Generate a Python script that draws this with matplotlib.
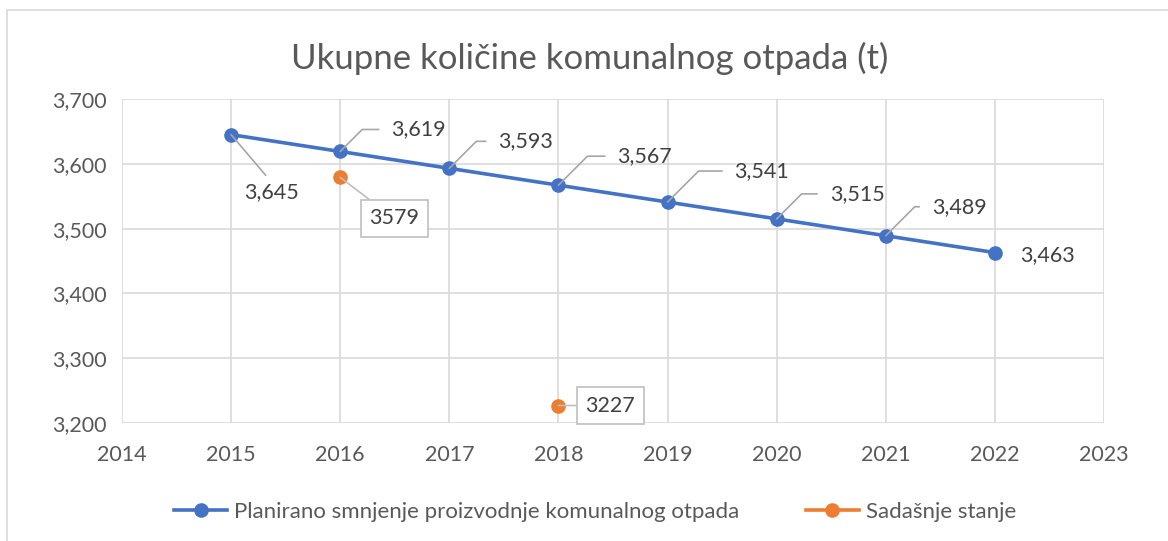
import matplotlib.pyplot as plt
from matplotlib.lines import Line2D
from matplotlib.patches import Rectangle
from matplotlib.ticker import FuncFormatter

plt.rcParams['font.family'] = ['Lato', 'DejaVu Sans']

# data
years = [2015, 2016, 2017, 2018, 2019, 2020, 2021, 2022]
planned = [3645, 3619, 3593, 3567, 3541, 3515, 3489, 3463]
actual_years = [2016, 2018]
actual = [3579, 3227]
series_names = ['Planirano smnjenje proizvodnje komunalnog otpada', 'Sadašnje stanje']

# label offsets in pixels (dx, dy)
label_offsets = [(40, -57), (51, 22), (49, 27), (59, 29), (67, 31), (53, 25), (46, 29), (25, -3)]
actual_offsets = [(54, -41), (52, 0)]

BLUE = '#4472C4'
ORANGE = '#ED7D31'
GRID = '#d9d9d9'
TXT = '#595959'
LBL = '#404040'
LEAD = '#a6a6a6'
FS = 15.5


def main():
    fig = plt.figure(figsize=(11.68, 5.41), dpi=100)
    fig.patches.append(Rectangle((7 / 1168, -0.1), 1.2, 1 - 10 / 541 + 0.1,
                                 transform=fig.transFigure, fill=False,
                                 edgecolor=GRID, lw=1.2))
    ax = fig.add_axes([122 / 1168, 1 - 423 / 541, (1104 - 122) / 1168, (423 - 99) / 541])

    ax.plot(years, planned, color=BLUE, lw=2.6, marker='o', ms=9.5, zorder=3)
    ax.plot(actual_years, actual, color=ORANGE, ls='none', marker='o', ms=9.5, zorder=3)

    ax.set_xlim(2014, 2023)
    ax.set_ylim(3200, 3700)
    ax.set_xticks(range(2014, 2024))
    ax.set_yticks(range(3200, 3701, 100))
    ax.yaxis.set_major_formatter(FuncFormatter(lambda v, p: f'{int(v):,}'))
    ax.grid(True, color=GRID, lw=1.2)
    ax.set_axisbelow(True)
    for s in ax.spines.values():
        s.set_visible(False)
    ax.tick_params(length=0, labelsize=FS, colors=TXT, pad=11)
    ax.tick_params(axis='x', pad=16)

    # planned labels
    for i, (x, y) in enumerate(zip(years, planned)):
        dx, dy = label_offsets[i]
        if i == 0:
            ax.annotate(f'{y:,}', (x, y), xytext=(dx, dy), textcoords='offset pixels',
                        ha='center', va='center', fontsize=FS, color=LBL,
                        arrowprops=dict(arrowstyle='-', color=LEAD, lw=1.2, patchA=None,
                                        shrinkA=6, shrinkB=0, relpos=(0.5, 1)))
        elif i == len(years) - 1:
            ax.annotate(f'{y:,}', (x, y), xytext=(dx, dy), textcoords='offset pixels',
                        ha='left', va='center', fontsize=FS, color=LBL)
        else:
            ax.annotate(f'{y:,}', (x, y), xytext=(dx, dy), textcoords='offset pixels',
                        ha='left', va='center', fontsize=FS, color=LBL,
                        arrowprops=dict(arrowstyle='-', color=LEAD, lw=1.2,
                                        shrinkA=7, shrinkB=0, relpos=(0, 0.5),
                                        connectionstyle='angle,angleA=0,angleB=45,rad=0'))

    # actual labels in boxes
    for (x, y), (dx, dy) in zip(zip(actual_years, actual), actual_offsets):
        ax.annotate(str(y), (x, y), xytext=(dx, dy), textcoords='offset pixels',
                    ha='center', va='center', fontsize=FS, color=LBL,
                    bbox=dict(boxstyle='square,pad=0.4', fc='white', ec='#bfbfbf', lw=1.2),
                    arrowprops=dict(arrowstyle='-', color='#bfbfbf', lw=1.2,
                                    shrinkA=0, shrinkB=0))

    fig.text(590 / 1168, 1 - 58 / 541, 'Ukupne količine komunalnog otpada (t)',
             ha='center', va='center', fontsize=25, color=TXT)

    handles = [Line2D([], [], color=BLUE, lw=2.6, marker='o', ms=9.5),
               Line2D([], [], color=ORANGE, lw=2.6, marker='o', ms=9.5)]
    fig.legend(handles, series_names, loc='center', bbox_to_anchor=(595 / 1168, 1 - 512 / 541),
               ncol=2, frameon=False, fontsize=16, labelcolor=TXT, handlelength=2.4,
               handletextpad=0.3, columnspacing=3.0)

    fig.savefig('out.png', dpi=100)


main()
